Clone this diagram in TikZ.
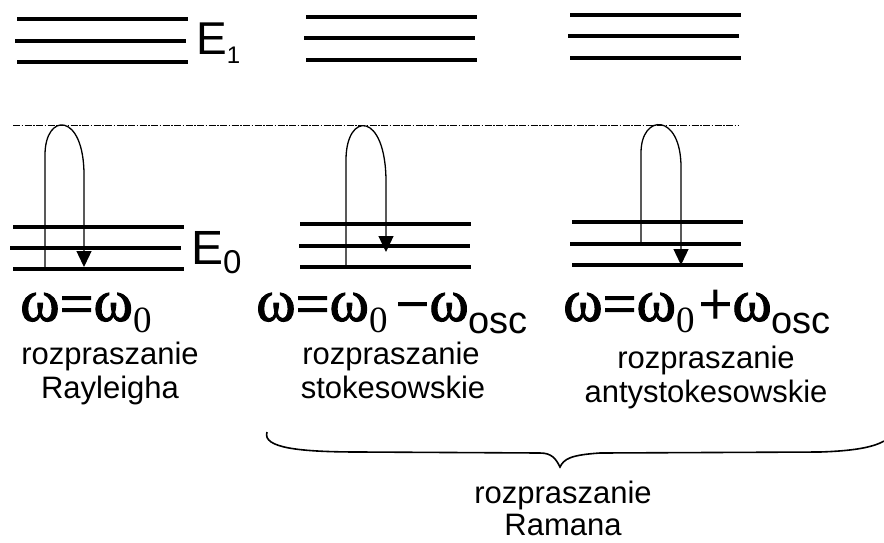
\documentclass[tikz,border=0pt]{standalone}
\usepackage{fontspec}
\setmainfont{Liberation Sans}
\newfontfamily\serifw[FakeBold=1.5]{Liberation Serif}
\newfontfamily\serifz{Liberation Serif}
\usetikzlibrary{arrows.meta}
\newcommand{\opsym}[1]{\lower3pt\hbox{#1}}
\begin{document}
\begin{tikzpicture}[x=1pt,y=-1pt,
  level/.style={line width=4pt},
  loopline/.style={line width=1.3pt,-{Triangle[width=15pt,length=16pt]}},
  virt/.style={line width=1pt,dash pattern=on 7pt off 1.5pt on 1.5pt off 1.5pt},
  txt/.style={inner sep=0pt,anchor=base,font=\fontsize{31}{34}\selectfont},
  frm/.style={inner sep=0pt,anchor=base west},
  elabel/.style={inner sep=0pt,anchor=base west},
  bracepath/.style={line width=1.6pt}]
\useasboundingbox (0,0) rectangle (884,542);
% upper levels E1
\draw[level] (17,19) -- (188,19);
\draw[level] (15,41) -- (186,41);
\draw[level] (17,62) -- (188,62);
\draw[level] (306,17) -- (477,17);
\draw[level] (304,38) -- (475,38);
\draw[level] (306,60) -- (477,60);
\draw[level] (570,15) -- (741,15);
\draw[level] (568,36) -- (739,36);
\draw[level] (570,58) -- (741,58);
\node[elabel] (E1) at (196,54) {\fontsize{46}{46}\selectfont E\lower9pt\hbox{\fontsize{24}{24}\selectfont 1}};
% virtual level
\coordinate (vL) at (13,125);
\coordinate (vR) at (738,125);
\draw[virt] (vL) -- (vR);
% lower levels E0
\draw[level] (13,227) -- (184,227);
\draw[level] (10,248) -- (181,248);
\draw[level] (13,269) -- (184,269);
\draw[level] (300,224) -- (471,224);
\draw[level] (299,246) -- (470,246);
\draw[level] (300,267) -- (471,267);
\draw[level] (572,222) -- (743,222);
\draw[level] (570,244) -- (741,244);
\draw[level] (572,265) -- (743,265);
\node[elabel] (E0) at (191,264) {\fontsize{48}{48}\selectfont E\lower9pt\hbox{\fontsize{33}{33}\selectfont 0}};
% loops
\coordinate (a1) at (45,269);
\coordinate (b1) at (84,267);
\draw[loopline] (a1) -- (45,155) .. controls (45,112) and (84,112) .. (84,175) -- (b1);
\coordinate (a2) at (346,267);
\coordinate (b2) at (386,252);
\draw[loopline] (a2) -- (346,160) .. controls (346,111) and (386,111) .. (386,182) -- (b2);
\coordinate (a3) at (641,244);
\coordinate (b3) at (681,265);
\draw[loopline] (a3) -- (641,153) .. controls (641,113) and (681,113) .. (681,167) -- (b3);
% formulas
\node[frm] (f1) at (20,321) {\serifw\fontsize{60}{60}\selectfont ω\opsym{=}ω\lower11pt\hbox{\serifz\fontsize{37}{37}\selectfont 0}};
\node[frm] (f2) at (256,321) {\serifw\fontsize{60}{60}\selectfont ω\opsym{=}ω\lower11pt\hbox{\serifz\fontsize{37}{37}\selectfont 0}\kern8pt\opsym{−}ω\lower12pt\hbox{\rmfamily\fontsize{38}{38}\selectfont osc}};
\node[frm] (f3) at (563,321) {\serifw\fontsize{60}{60}\selectfont ω\opsym{=}ω\lower11pt\hbox{\serifz\fontsize{37}{37}\selectfont 0}\kern4pt\opsym{+}ω\lower12pt\hbox{\rmfamily\fontsize{38}{38}\selectfont osc}};
% descriptions
\node[txt] (t1a) at (110,364) {rozpraszanie};
\node[txt] (t1b) at (110,398) {Rayleigha};
\node[txt] (t2a) at (391,364) {rozpraszanie};
\node[txt] (t2b) at (393,398) {stokesowskie};
\node[txt] (t3a) at (706,368) {rozpraszanie};
\node[txt] (t3b) at (706,402) {antystokesowskie};
% brace
\coordinate (brL) at (267,432);
\coordinate (brT) at (560,467);
\coordinate (brR) at (884,441);
\draw[bracepath] (brL) .. controls (262,448) and (300,452) .. (360,452) -- (540,453)
  .. controls (552,453) and (556,459) .. (brT)
  .. controls (564,459) and (570,455) .. (600,453) -- (820,452)
  .. controls (850,451) and (872,448) .. (brR);
\node[txt] (t4a) at (563,503) {rozpraszanie};
\node[txt] (t4b) at (563,535) {Ramana};
\end{tikzpicture}
\end{document}
